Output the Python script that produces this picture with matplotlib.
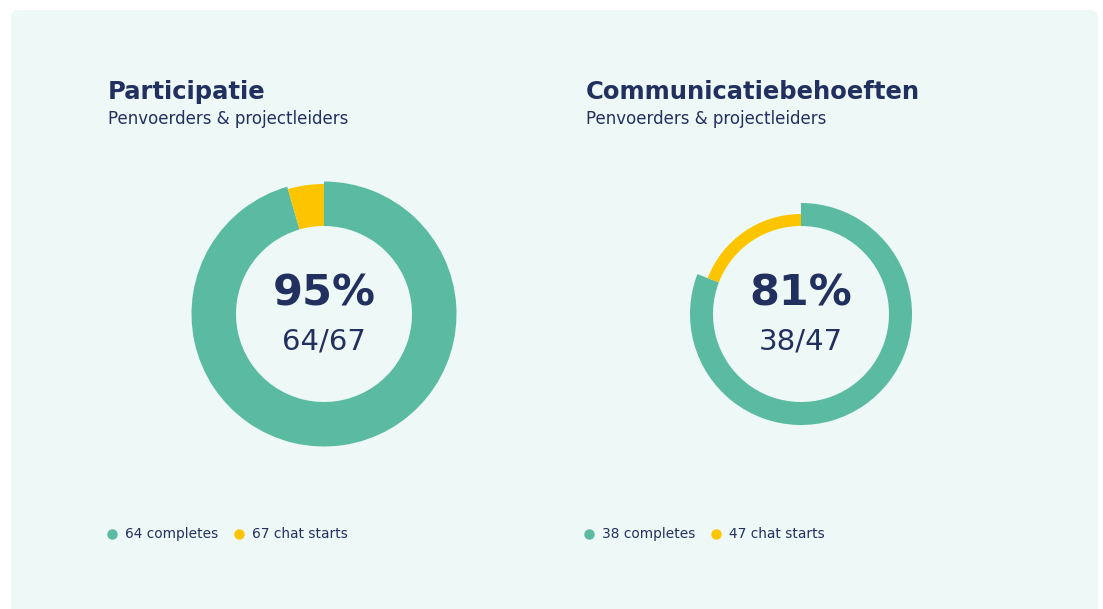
import matplotlib.pyplot as plt
from matplotlib.patches import FancyBboxPatch

# survey funnels: chat starts vs. completes
titles = ['Participatie', 'Communicatiebehoeften']
subtitle = 'Penvoerders & projectleiders'
completes = [64, 38]
chat_starts = [67, 47]
pct_labels = ['95%', '81%']

green = '#5bbba2'
yellow = '#fdc500'
navy = '#22305f'
card = '#eef8f6'

W, H = 1103, 609

fig = plt.figure(figsize=(W / 100, H / 100), dpi=100, facecolor='white')
ax = fig.add_axes([0, 0, 1, 1])

# ring geometry per panel (pixel units): center, green outer/inner, yellow outer
centers = [(324, 609 - 314), (801, 609 - 314)]
green_r = [132.5, 111]
yellow_r = [130, 100]
inner_r = 88
left_x = [108, 586]
dot_x = [[112, 239], [589, 716]]

ax.add_patch(FancyBboxPatch((11, -20), 1087, 619, boxstyle='round,pad=0,rounding_size=8',
                            facecolor=card, edgecolor='none', zorder=0))

for i in range(2):
    done = completes[i]
    rest = chat_starts[i] - completes[i]
    ax.pie([done, rest], colors=[green, 'none'], center=centers[i], radius=green_r[i],
           startangle=90, counterclock=False,
           wedgeprops=dict(width=green_r[i] - inner_r, linewidth=0))
    ax.pie([done, rest], colors=['none', yellow], center=centers[i], radius=yellow_r[i],
           startangle=90, counterclock=False,
           wedgeprops=dict(width=yellow_r[i] - inner_r, linewidth=0))

    cx, cy = centers[i]
    ax.text(cx, 609 - 293, pct_labels[i], ha='center', va='center', fontsize=31,
            fontweight='bold', color=navy)
    ax.text(cx, 609 - 341, f'{done}/{chat_starts[i]}', ha='center', va='center',
            fontsize=21, color=navy)

    ax.text(left_x[i], 609 - 92, titles[i], ha='left', va='center', fontsize=17.5,
            fontweight='bold', color=navy)
    ax.text(left_x[i], 609 - 119, subtitle, ha='left', va='center', fontsize=12, color=navy)

    labels = [f'{done} completes', f'{chat_starts[i]} chat starts']
    for x, lab, col in zip(dot_x[i], labels, [green, yellow]):
        ax.plot([x], [609 - 534], marker='o', markersize=6.5, color=col, linestyle='none')
        ax.text(x + 13, 609 - 534, lab, ha='left', va='center', fontsize=9.9, color=navy)

ax.set_xlim(0, W)
ax.set_ylim(0, H)
ax.set_aspect('equal')
ax.axis('off')

fig.savefig('out.png', dpi=100, facecolor='white')
